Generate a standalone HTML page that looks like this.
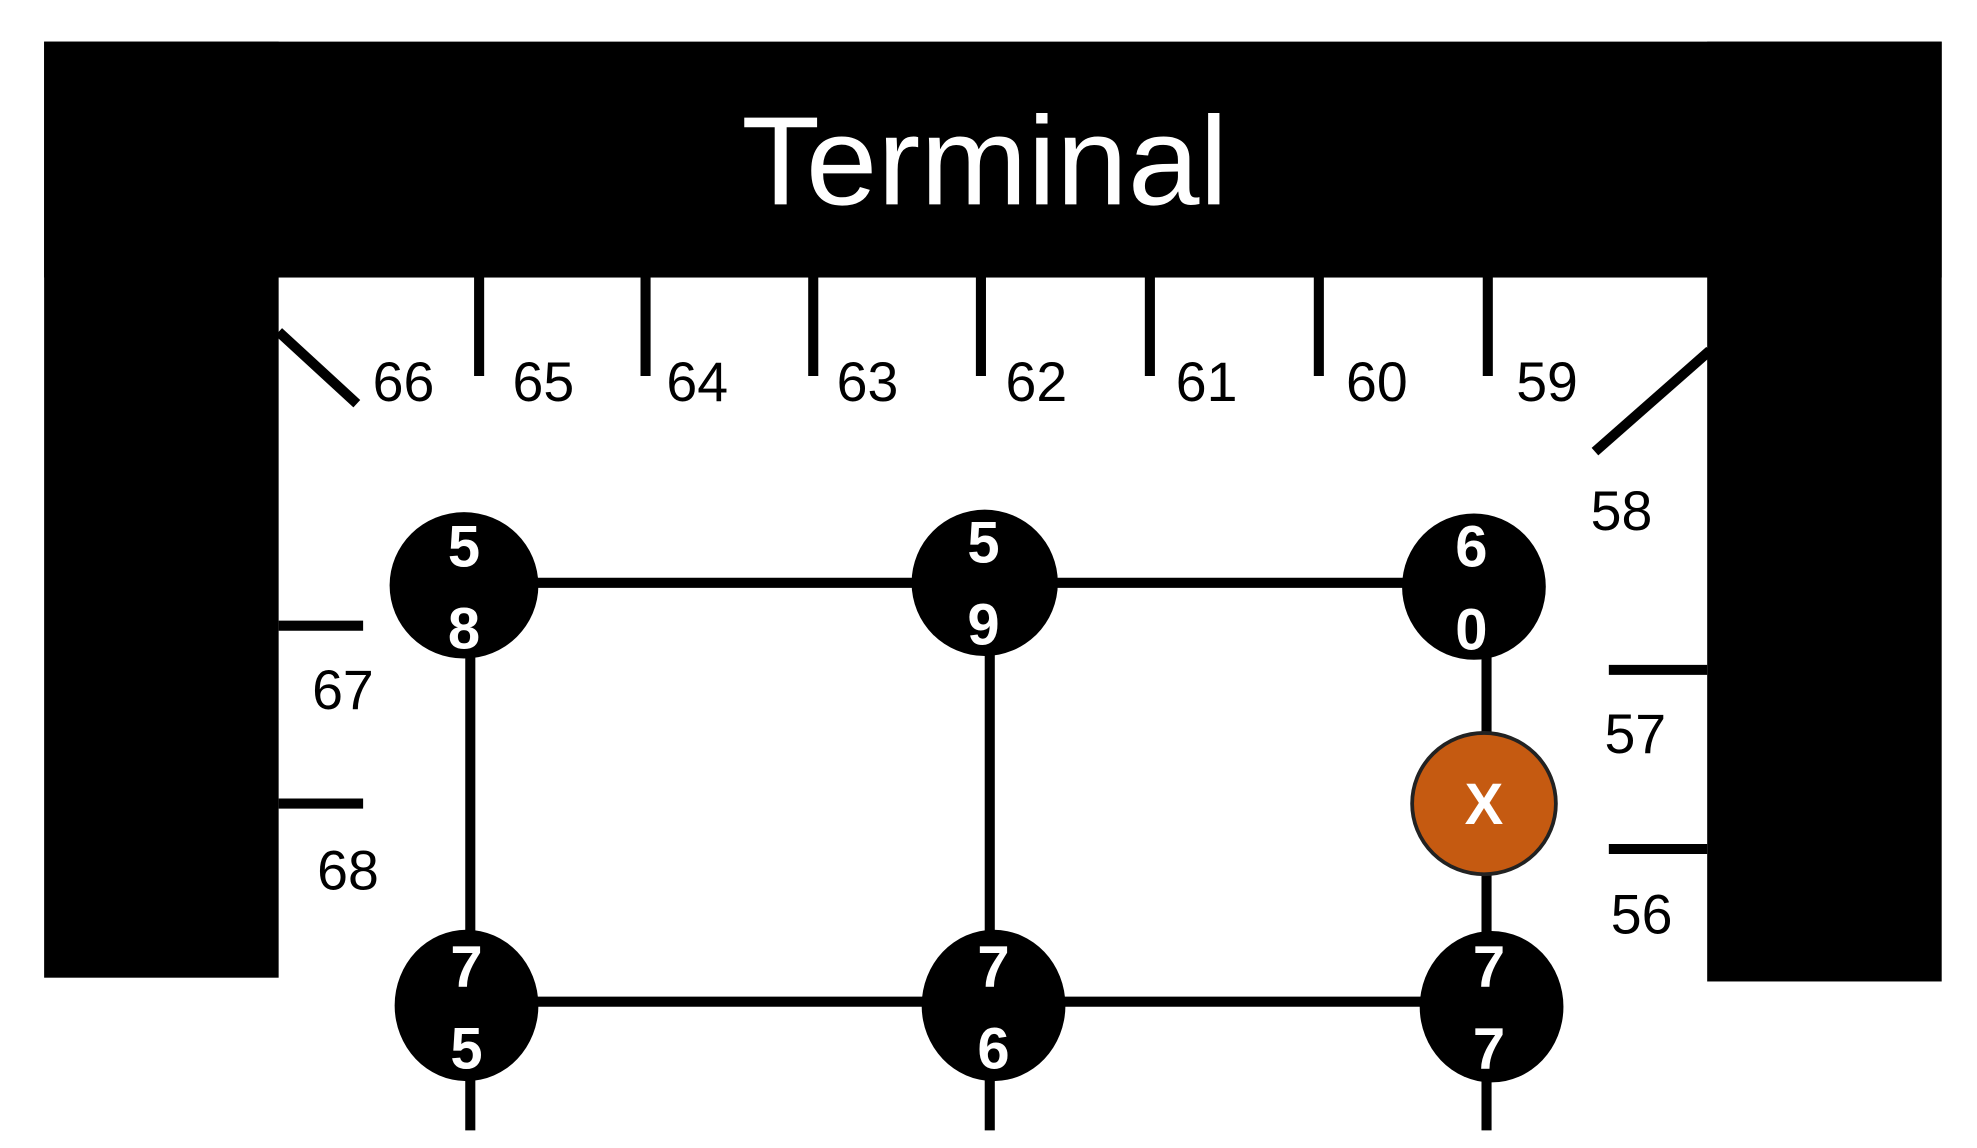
<!DOCTYPE html>
<html><head><meta charset="utf-8"><style>
html,body{margin:0;padding:0;background:#fff;}
svg{display:block;}
text{font-family:"Liberation Sans",sans-serif;}
</style></head><body>
<svg width="1977" height="1148" viewBox="0 0 1568 910" preserveAspectRatio="none" xmlns="http://www.w3.org/2000/svg">
<rect width="1568" height="910" fill="#fff"/>
<rect x="35" y="33" width="1505" height="187" fill="#000"/>
<rect x="35" y="33" width="186" height="742" fill="#000"/>
<rect x="1354" y="33" width="186" height="745" fill="#000"/>
<text x="781" y="162" font-size="100" fill="#fff" text-anchor="middle" textLength="386" lengthAdjust="spacingAndGlyphs">Terminal</text>
<g stroke="#000" stroke-width="8">
<line x1="380" y1="220" x2="380" y2="298"/>
<line x1="512" y1="220" x2="512" y2="298"/>
<line x1="645" y1="220" x2="645" y2="298"/>
<line x1="778" y1="220" x2="778" y2="298"/>
<line x1="912" y1="220" x2="912" y2="298"/>
<line x1="1046" y1="220" x2="1046" y2="298"/>
<line x1="1180" y1="220" x2="1180" y2="298"/>
<line x1="221" y1="263" x2="283" y2="320"/>
<line x1="1356" y1="278" x2="1265" y2="358"/>
<line x1="221" y1="496" x2="288" y2="496"/>
<line x1="221" y1="637" x2="288" y2="637"/>
<line x1="1276" y1="531" x2="1354" y2="531"/>
<line x1="1276" y1="673" x2="1354" y2="673"/>
<line x1="368" y1="462" x2="1169" y2="462"/>
<line x1="373" y1="464" x2="373" y2="896"/>
<line x1="785" y1="462" x2="785" y2="896"/>
<line x1="1179" y1="465" x2="1179" y2="896"/>
<line x1="370" y1="794" x2="1183" y2="794"/>
</g>
<g font-size="44" fill="#000" text-anchor="middle">
<text x="320" y="318">66</text><text x="431" y="318">65</text><text x="553" y="318">64</text>
<text x="688" y="318">63</text><text x="822" y="318">62</text><text x="957" y="318">61</text>
<text x="1092" y="318">60</text><text x="1227" y="318">59</text>
<text x="1286" y="420">58</text><text x="272" y="562">67</text><text x="276" y="705">68</text>
<text x="1297" y="597">57</text><text x="1302" y="740">56</text>
</g>
<g fill="#000">
<ellipse cx="368" cy="464" rx="59" ry="58"/>
<ellipse cx="781" cy="462" rx="58" ry="58"/>
<ellipse cx="1169" cy="465" rx="57" ry="58"/>
<ellipse cx="370" cy="797" rx="57" ry="60"/>
<ellipse cx="788" cy="797" rx="57" ry="60"/>
<ellipse cx="1183" cy="798" rx="57" ry="60"/>
</g>
<ellipse cx="1177" cy="637" rx="57" ry="56" fill="#C55A11" stroke="#222" stroke-width="3"/>
<g font-size="46" font-weight="bold" fill="#fff" text-anchor="middle">
<text x="368" y="449">5</text><text x="368" y="514">8</text>
<text x="780" y="446">5</text><text x="780" y="511">9</text>
<text x="1167" y="449">6</text><text x="1167" y="515">0</text>
<text x="370" y="782">7</text><text x="370" y="847">5</text>
<text x="788" y="782">7</text><text x="788" y="847">6</text>
<text x="1181" y="782">7</text><text x="1181" y="847">7</text>
<text x="1177" y="653">X</text>
</g>
</svg>
</body></html>
